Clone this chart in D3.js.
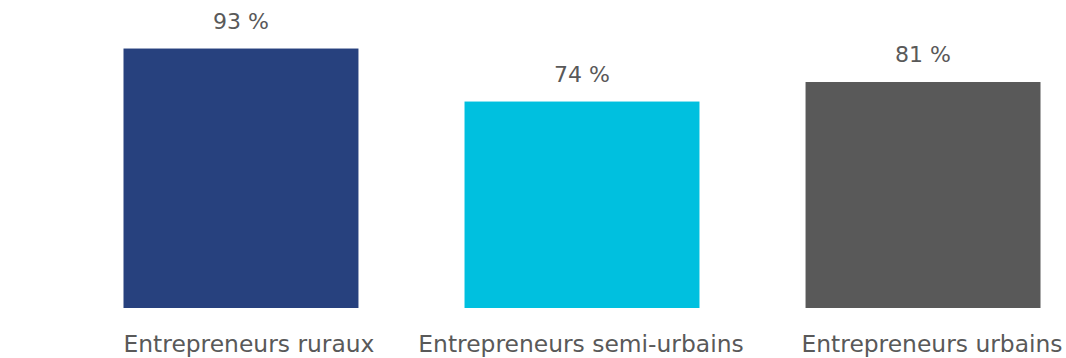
<!DOCTYPE html>
<html>
<head>
<meta charset="utf-8">
<script src="https://cdn.jsdelivr.net/npm/d3@7"></script>
<style>
  html, body { margin: 0; padding: 0; background: #ffffff; }
  svg { display: block; }
  text { font-family: "DejaVu Sans", Verdana, sans-serif; fill: #595959; }
</style>
</head>
<body>
<svg id="chart" width="1066" height="358"></svg>
<script>
// Share of entrepreneurs by area type (%)
const categories = ["Entrepreneurs ruraux", "Entrepreneurs semi-urbains", "Entrepreneurs urbains"];
const values = [93, 74, 81];
const colors = ["#27417E", "#00C0DF", "#595959"];

const width = 1066, height = 358;
const svg = d3.select("#chart");

const x = d3.scaleBand()
  .domain(categories)
  .range([123.5, 1040.5])
  .paddingInner(0.311)
  .paddingOuter(0);

const y = d3.scaleLinear()
  .domain([0, 100])
  .range([308, 29]);

// Horizontal nudge of each category label relative to its bar centre
const labelNudge = [8, -1, 9];

// Bars
svg.append("g")
  .selectAll("rect")
  .data(categories)
  .join("rect")
  .attr("x", d => x(d))
  .attr("width", x.bandwidth())
  .attr("y", (d, i) => y(values[i]))
  .attr("height", (d, i) => y(0) - y(values[i]))
  .attr("fill", (d, i) => colors[i]);

// Value labels above the bars
svg.append("g")
  .selectAll("text")
  .data(categories)
  .join("text")
  .attr("x", d => x(d) + x.bandwidth() / 2)
  .attr("y", (d, i) => y(values[i]) - 20)
  .attr("text-anchor", "middle")
  .style("font-size", "22px")
  .text((d, i) => values[i] + " %");

// Category labels under the bars
svg.append("g")
  .selectAll("text")
  .data(categories)
  .join("text")
  .attr("x", (d, i) => x(d) + x.bandwidth() / 2 + labelNudge[i])
  .attr("y", 352)
  .attr("text-anchor", "middle")
  .style("font-size", "23.4px")
  .text(d => d);
</script>
</body>
</html>
